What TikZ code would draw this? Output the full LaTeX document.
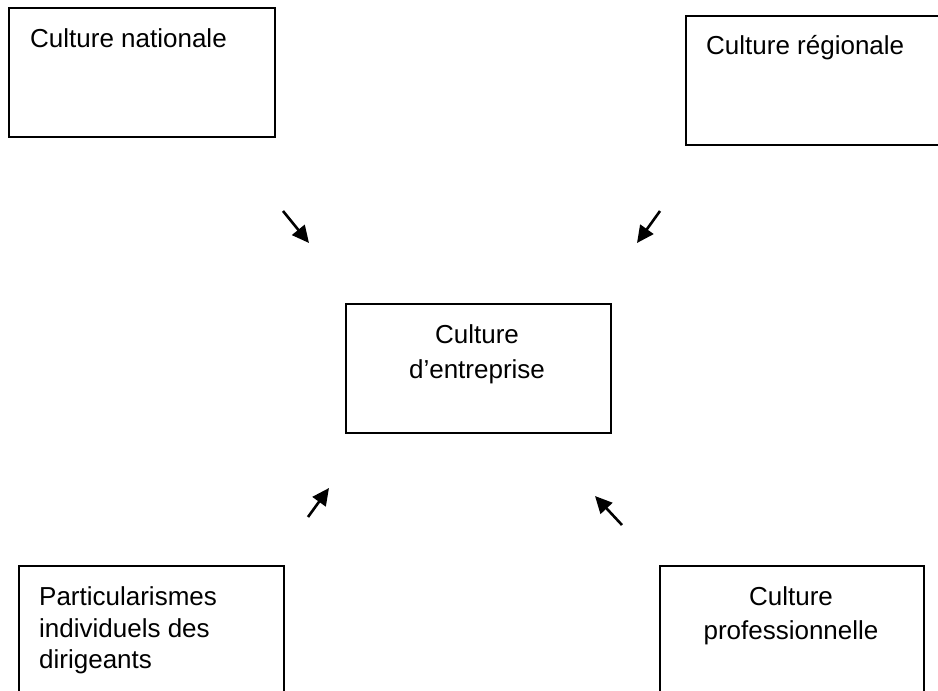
\documentclass[tikz,border=0pt]{standalone}
\usepackage{fontspec}
\setmainfont{Liberation Sans}
\usetikzlibrary{arrows.meta}
\begin{document}
\begin{tikzpicture}[x=1pt,y=-1pt,
  frame/.style={draw=black,line width=1.8pt,rectangle,inner sep=0pt,anchor=north west},
  label/.style={inner sep=0pt,anchor=base west,font=\fontsize{26}{32}\selectfont},
  clabel/.style={inner sep=0pt,anchor=base,font=\fontsize{26}{32}\selectfont},
  influence/.style={line width=2.6pt,-{Triangle[length=17pt,width=16pt]}}]
\useasboundingbox (0,0) rectangle (938,691);
\clip (0,0) rectangle (938,691);
\fill[white] (0,0) rectangle (938,691);
% boxes
\node[frame,minimum width=266pt,minimum height=129pt] (nat) at (8,7) {};
\node[frame,minimum width=280pt,minimum height=129pt] (reg) at (685,15) {};
\node[frame,minimum width=265pt,minimum height=129pt] (ent) at (345,303) {};
\node[frame,minimum width=265pt,minimum height=140pt] (part) at (18,565) {};
\node[frame,minimum width=264pt,minimum height=140pt] (prof) at (659,565) {};
% texts
\node[label] (natt) at (30,47) {Culture nationale};
\node[label] (regt) at (706,54) {Culture régionale};
\node[clabel] (entt1) at (477,343) {Culture};
\node[clabel] (entt2) at (477,378) {d’entreprise};
\node[label] (partt1) at (39,605) {Particularismes};
\node[label] (partt2) at (39,637) {individuels des};
\node[label] (partt3) at (39,668) {dirigeants};
\node[clabel] (proft1) at (791,605) {Culture};
\node[clabel] (proft2) at (791,639) {professionnelle};
% arrows
\coordinate (a1s) at (283,211); \coordinate (a1e) at (309,243);
\coordinate (a2s) at (660,211); \coordinate (a2e) at (637,243);
\coordinate (a3s) at (308,517); \coordinate (a3e) at (329,488);
\coordinate (a4s) at (622,525); \coordinate (a4e) at (595,496);
\draw[influence] (a1s) -- (a1e);
\draw[influence] (a2s) -- (a2e);
\draw[influence] (a3s) -- (a3e);
\draw[influence] (a4s) -- (a4e);
\end{tikzpicture}
\end{document}
